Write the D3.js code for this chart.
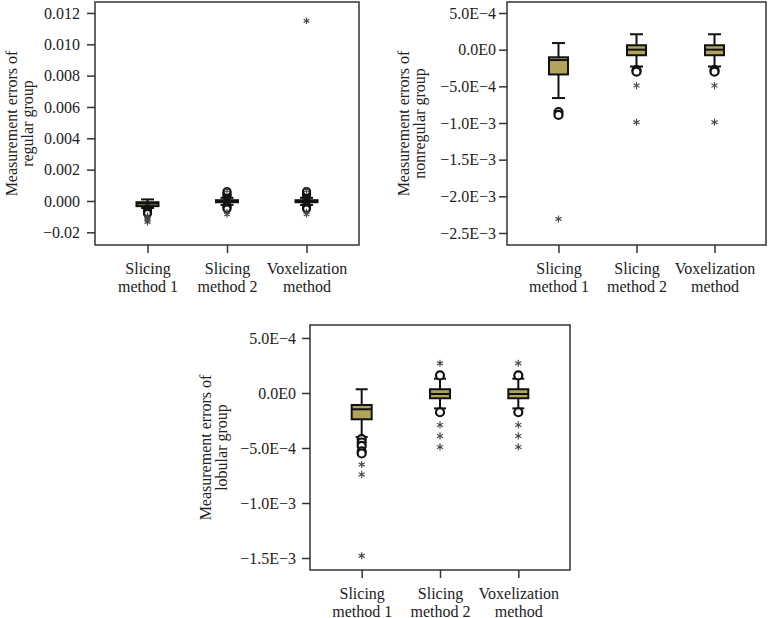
<!DOCTYPE html>
<html>
<head>
<meta charset="utf-8">
<script src="https://cdn.jsdelivr.net/npm/d3@7"></script>
<style>
  body { margin: 0; background: #fff; }
  svg { display: block; }
</style>
</head>
<body>
<div id="chart"></div>
<script>
// categories shared by all three panels
var categories = ["Slicing method 1", "Slicing method 2", "Voxelization method"];
var categoryLines = [["Slicing", "method 1"], ["Slicing", "method 2"], ["Voxelization", "method"]];

// regular group (top left)
var regularTicks = [-0.002, 0, 0.002, 0.004, 0.006, 0.008, 0.010, 0.012];
var regularTickLabels = ["\u22120.02", "0.000", "0.002", "0.004", "0.006", "0.008", "0.010", "0.012"];
var regularBoxes = [
  {lo: -0.00045, q1: -0.00033, med: -0.00016, q3: -0.00008, hi: 0.0001},
  {lo: -0.00025, q1: -0.00008, med: 0, q3: 0.00005, hi: 0.0002},
  {lo: -0.00025, q1: -0.00008, med: 0, q3: 0.00005, hi: 0.0002}
];
var regularCircles = [
  [-0.0005, -0.0006, -0.0007, -0.0008],
  [0.0003, 0.0004, 0.0005, 0.0006, -0.0003, -0.0004, -0.0005],
  [0.0003, 0.0004, 0.0005, 0.0006, -0.0003, -0.0004, -0.0005]
];
var regularStars = [
  [-0.00095, -0.00105, -0.00115, -0.00125, -0.00135],
  [0.00068, -0.0007, -0.00085],
  [0.00068, -0.0007, -0.00085, 0.0115]
];

// nonregular group (top right)
var nonregularTicks = [-0.0025, -0.002, -0.0015, -0.001, -0.0005, 0, 0.0005];
var nonregularTickLabels = ["\u22122.5E\u22123", "\u22122.0E\u22123", "\u22121.5E\u22123", "\u22121.0E\u22123", "\u22125.0E\u22124", "0.0E0", "5.0E\u22124"];
var nonregularBoxes = [
  {lo: -0.00066, q1: -0.000338, med: -0.000142, q3: -0.000104, hi: 0.00009},
  {lo: -0.00023, q1: -0.000076, med: 0, q3: 0.00006, hi: 0.00021},
  {lo: -0.00023, q1: -0.000076, med: 0, q3: 0.00006, hi: 0.00021}
];
var nonregularCircles = [
  [-0.00085, -0.00089],
  [-0.00028, -0.0003],
  [-0.00028, -0.0003]
];
var nonregularStars = [
  [-0.00231],
  [-0.00049, -0.00099],
  [-0.00049, -0.00099]
];

// lobular group (bottom)
var lobularTicks = [-0.0015, -0.001, -0.0005, 0, 0.0005];
var lobularTickLabels = ["\u22121.5E\u22123", "\u22121.0E\u22123", "\u22125.0E\u22124", "0.0E0", "5.0E\u22124"];
var lobularBoxes = [
  {lo: -0.0004, q1: -0.000239, med: -0.000148, q3: -0.000109, hi: 0.000034},
  {lo: -0.00014, q1: -0.000048, med: -0.000009, q3: 0.000034, hi: 0.00013},
  {lo: -0.00014, q1: -0.000048, med: -0.000009, q3: 0.000034, hi: 0.00013}
];
var lobularCircles = [
  [-0.00042, -0.00045, -0.00048, -0.00053, -0.00055],
  [0.00016, -0.000175],
  [0.00016, -0.000175]
];
var lobularStars = [
  [-0.00065, -0.00074, -0.00148],
  [0.00027, -0.00029, -0.00039, -0.00049],
  [0.00027, -0.00029, -0.00039, -0.00049]
];

var boxFill = "#b2a55b";
var font = "'Liberation Serif', 'DejaVu Serif', serif";

var svg = d3.select("#chart").append("svg")
  .attr("width", 768)
  .attr("height", 618)
  .style("font-family", font);

function drawPanel(p) {
  var g = svg.append("g");

  var y = d3.scaleLinear().domain(p.domain).range([p.bottom, p.top]);
  var x = d3.scalePoint().domain(categories).range([p.left, p.right]).padding(0.66);

  // y axis
  var yAxis = g.append("g")
    .attr("transform", "translate(" + p.left + ",0)")
    .call(d3.axisLeft(y)
      .tickValues(p.ticks)
      .tickSize(8)
      .tickPadding(p.pad)
      .tickFormat(function(d, i) { return p.tickLabels[i]; }));
  yAxis.select(".domain").remove();
  yAxis.selectAll(".tick line").attr("stroke", "#333").attr("stroke-width", 1.5);
  yAxis.selectAll(".tick text")
    .attr("fill", "#222")
    .style("font-family", font)
    .style("font-size", "16px");

  // x axis
  var xAxis = g.append("g")
    .attr("transform", "translate(0," + p.bottom + ")")
    .call(d3.axisBottom(x).tickSize(8).tickSizeOuter(0));
  xAxis.select(".domain").remove();
  xAxis.selectAll(".tick line").attr("stroke", "#333").attr("stroke-width", 1.5);
  xAxis.selectAll(".tick text").remove();
  xAxis.selectAll(".tick").each(function(d, i) {
    var t = d3.select(this).append("text")
      .attr("fill", "#222")
      .attr("text-anchor", "middle")
      .style("font-family", font)
      .style("font-size", "16px");
    t.append("tspan").attr("x", 0).attr("y", 29).text(categoryLines[i][0]);
    t.append("tspan").attr("x", 0).attr("y", 47).text(categoryLines[i][1]);
  });

  // frame
  g.append("rect")
    .attr("x", p.left)
    .attr("y", p.top)
    .attr("width", p.right - p.left)
    .attr("height", p.bottom - p.top)
    .attr("fill", "none")
    .attr("stroke", "#333")
    .attr("stroke-width", 1.5);

  // y label
  var cy = (p.top + p.bottom) / 2;
  var lab = g.append("text")
    .attr("transform", "translate(" + p.labelX + "," + cy + ") rotate(-90)")
    .attr("text-anchor", "middle")
    .attr("fill", "#222")
    .style("font-size", "16px");
  lab.append("tspan").attr("x", 0).attr("y", 0).text(p.label[0]);
  lab.append("tspan").attr("x", 0).attr("y", 16).text(p.label[1]);

  var bw = p.boxWidth;
  var cw = p.capWidth;

  var boxes = g.selectAll(".box")
    .data(p.boxes)
    .enter()
    .append("g")
      .attr("class", "box")
      .attr("transform", function(d, i) { return "translate(" + x(categories[i]) + ",0)"; });

  // whiskers
  boxes.append("line")
    .attr("x1", 0).attr("x2", 0)
    .attr("y1", function(d) { return y(d.hi); })
    .attr("y2", function(d) { return y(d.lo); })
    .attr("stroke", "#111").attr("stroke-width", 2);
  boxes.append("line")
    .attr("x1", -cw / 2).attr("x2", cw / 2)
    .attr("y1", function(d) { return y(d.hi); })
    .attr("y2", function(d) { return y(d.hi); })
    .attr("stroke", "#111").attr("stroke-width", 2);
  boxes.append("line")
    .attr("x1", -cw / 2).attr("x2", cw / 2)
    .attr("y1", function(d) { return y(d.lo); })
    .attr("y2", function(d) { return y(d.lo); })
    .attr("stroke", "#111").attr("stroke-width", 2);

  // box
  boxes.append("rect")
    .attr("x", -bw / 2)
    .attr("width", bw)
    .attr("y", function(d) { return y(d.q3); })
    .attr("height", function(d) { return Math.max(1, y(d.q1) - y(d.q3)); })
    .attr("fill", boxFill)
    .attr("stroke", "#111")
    .attr("stroke-width", 2);
  boxes.append("line")
    .attr("x1", -bw / 2).attr("x2", bw / 2)
    .attr("y1", function(d) { return y(d.med); })
    .attr("y2", function(d) { return y(d.med); })
    .attr("stroke", "#111").attr("stroke-width", 2);

  // outliers: circles
  p.circles.forEach(function(list, i) {
    g.selectAll(null)
      .data(list)
      .enter()
      .append("circle")
        .attr("cx", x(categories[i]))
        .attr("cy", function(d) { return y(d); })
        .attr("r", p.circleR)
        .attr("fill", "#fff")
        .attr("stroke", "#111")
        .attr("stroke-width", 2.2);
  });

  // extreme values: stars
  var star = d3.symbol().type(d3.symbolAsterisk).size(p.starSize);
  p.stars.forEach(function(list, i) {
    g.selectAll(null)
      .data(list)
      .enter()
      .append("path")
        .attr("d", star)
        .attr("transform", function(d) { return "translate(" + x(categories[i]) + "," + y(d) + ")"; })
        .attr("fill", "none")
        .attr("stroke", "#444")
        .attr("stroke-width", 1.1);
  });
}

drawPanel({
  left: 95, right: 359, top: 2, bottom: 245,
  domain: [-0.00281, 0.0127],
  ticks: regularTicks, tickLabels: regularTickLabels, pad: 7,
  boxes: regularBoxes, circles: regularCircles, stars: regularStars,
  label: ["Measurement errors of", "regular group"], labelX: 17,
  boxWidth: 22, capWidth: 13, circleR: 3.5, starSize: 30
});

drawPanel({
  left: 507, right: 766, top: 2, bottom: 245,
  domain: [-0.002664, 0.00065],
  ticks: nonregularTicks, tickLabels: nonregularTickLabels, pad: 3,
  boxes: nonregularBoxes, circles: nonregularCircles, stars: nonregularStars,
  label: ["Measurement errors of", "nonregular group"], labelX: 409,
  boxWidth: 19, capWidth: 13, circleR: 4, starSize: 35
});

drawPanel({
  left: 310, right: 570, top: 325, bottom: 570,
  domain: [-0.001609, 0.000618],
  ticks: lobularTicks, tickLabels: lobularTickLabels, pad: 6,
  boxes: lobularBoxes, circles: lobularCircles, stars: lobularStars,
  label: ["Measurement errors of", "lobular group"], labelX: 211,
  boxWidth: 20, capWidth: 12, circleR: 4, starSize: 35
});
</script>
</body>
</html>
